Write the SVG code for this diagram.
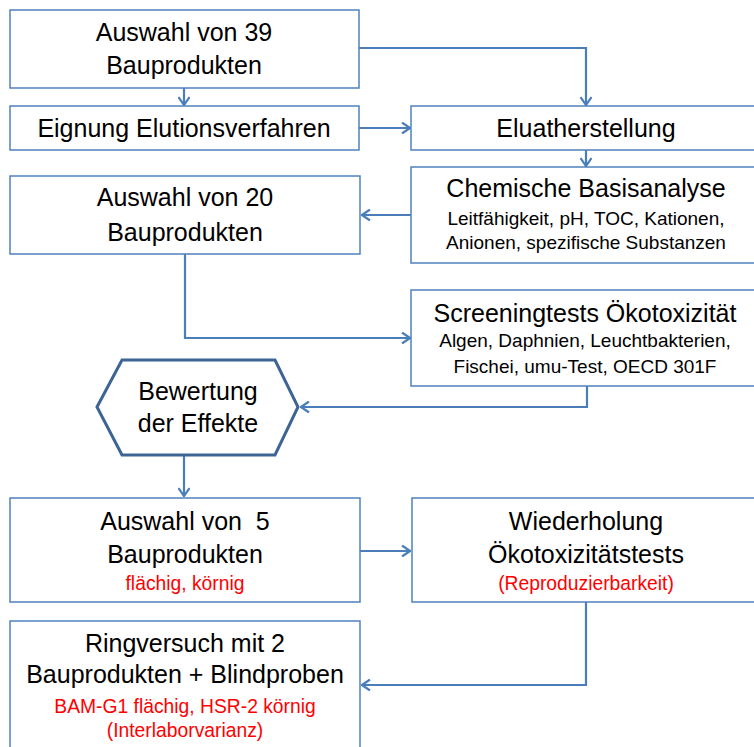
<svg xmlns="http://www.w3.org/2000/svg" width="754" height="747" viewBox="0 0 754 747">
<defs>
<style>
.box{fill:#fff;stroke:#4f81bd;stroke-width:1.5}
.hex{fill:#fff;stroke:#3d6494;stroke-width:3}
.c{fill:none;stroke:#4a7ebb;stroke-width:2.2;marker-end:url(#ah)}
text{font-family:"Liberation Sans",Arial,sans-serif;text-anchor:middle;fill:#000}
.m{font-size:25px}
.s{font-size:19px}
.r{font-size:19.3px;fill:#ff0000}
</style>
<marker id="ah" viewBox="0 0 10 12" refX="9" refY="6" markerWidth="10" markerHeight="12" markerUnits="userSpaceOnUse" orient="auto">
<path d="M1,0.5 L9,6 L1,11.5" fill="none" stroke="#4a7ebb" stroke-width="2.2"/>
</marker>
</defs>
<rect width="754" height="747" fill="#fff"/>
<g id="connectors">
<path class="c" d="M184,88 V105"/>
<path class="c" d="M359,48 H586 V105"/>
<path class="c" d="M359,128 H410"/>
<path class="c" d="M586,150 V166"/>
<path class="c" d="M414,215 H362"/>
<path class="c" d="M185,254 V338 H410"/>
<path class="c" d="M587,386 V407 H301"/>
<path class="c" d="M184,455 V496"/>
<path class="c" d="M360,551 H410"/>
<path class="c" d="M586,602 V685 H362"/>
</g>
<g id="n1"><rect class="box" x="10" y="10" width="349" height="78"/>
<text class="m" x="184" y="41">Auswahl von 39</text><text class="m" x="184" y="74">Bauprodukten</text></g>
<g id="n2"><rect class="box" x="10" y="106" width="349" height="44"/>
<text class="m" x="184" y="137">Eignung Elutionsverfahren</text></g>
<g id="n3"><rect class="box" x="411" y="106" width="360" height="44"/>
<text class="m" x="586" y="137">Eluatherstellung</text></g>
<g id="n4"><rect class="box" x="411" y="167" width="360" height="96"/>
<text class="m" x="586" y="197">Chemische Basisanalyse</text>
<text class="s" x="586" y="225">Leitfähigkeit, pH, TOC, Kationen,</text>
<text class="s" x="586" y="249">Anionen, spezifische Substanzen</text></g>
<g id="n5"><rect class="box" x="10" y="176" width="350" height="78"/>
<text class="m" x="185" y="206">Auswahl von 20</text><text class="m" x="185" y="241">Bauprodukten</text></g>
<g id="n6"><rect class="box" x="411" y="290" width="360" height="96"/>
<text class="m" x="585" y="322">Screeningtests Ökotoxizität</text>
<text class="s" x="585" y="347">Algen, Daphnien, Leuchtbakterien,</text>
<text class="s" x="585" y="373">Fischei, umu-Test, OECD 301F</text></g>
<g id="n7"><polygon class="hex" points="97,407 122,360 275,360 298,407 275,455 122,455"/>
<text class="m" x="198" y="400">Bewertung</text><text class="m" x="198" y="432">der Effekte</text></g>
<g id="n8"><rect class="box" x="10" y="498" width="350" height="104"/>
<text class="m" x="185" y="530" xml:space="preserve">Auswahl von  5</text><text class="m" x="185" y="563">Bauprodukten</text>
<text class="r" x="185" y="590">flächig, körnig</text></g>
<g id="n9"><rect class="box" x="412" y="498" width="360" height="104"/>
<text class="m" x="586" y="530">Wiederholung</text><text class="m" x="586" y="563">Ökotoxizitätstests</text>
<text class="r" x="586" y="590">(Reproduzierbarkeit)</text></g>
<g id="n10"><rect class="box" x="10" y="621" width="350" height="140"/>
<text class="m" x="185" y="652">Ringversuch mit 2</text><text class="m" x="185" y="683">Bauprodukten + Blindproben</text>
<text class="r" x="185" y="713">BAM-G1 flächig, HSR-2 körnig</text>
<text class="r" x="185" y="737">(Interlaborvarianz)</text></g>
</svg>
